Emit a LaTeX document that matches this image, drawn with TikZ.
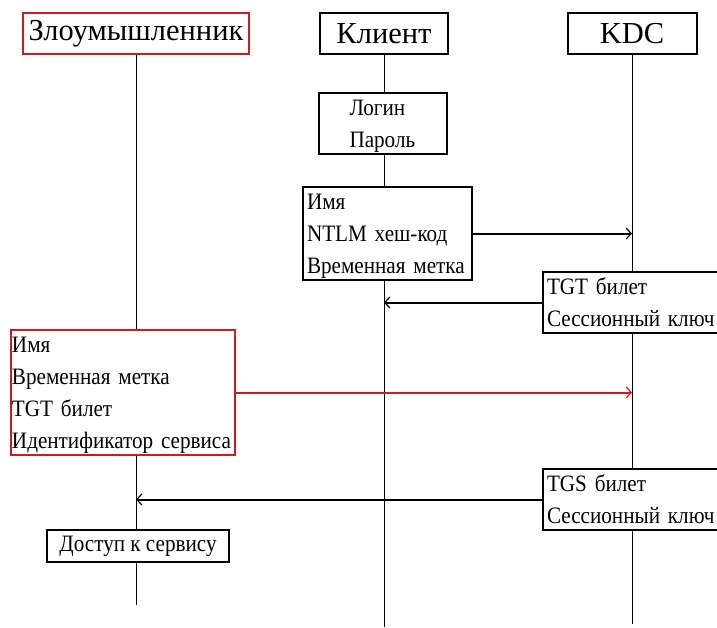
\documentclass[tikz,border=0pt]{standalone}
\usepackage{fontspec}
\setmainfont{Liberation Serif}
\newfontfamily\msgfont[FakeStretch=0.9]{Liberation Serif}
\usetikzlibrary{positioning,arrows.meta,backgrounds}
\definecolor{attackred}{RGB}{200,30,34}
\newcommand{\linetop}{\rule{0pt}{20pt}}
\newcommand{\linebot}{\rule[-5pt]{0pt}{5pt}}

\begin{document}
\begin{tikzpicture}[x=1pt, y=-1pt, line width=2pt,
  party/.style = {draw, fill=white, minimum height=41pt, font=\fontsize{30.5}{34}\selectfont},
  msg/.style = {draw, fill=white, align=left, inner xsep=4pt, inner ysep=2pt, font=\msgfont\fontsize{23.5}{32}\selectfont},
  bad/.style = {draw=attackred},
  call/.style = {-{Straight Barb[length=5pt,width=11pt,line width=1.2pt]}}]
  \clip (0,0) rectangle (717,627);
  % Parties
  \node[party, bad, minimum width=226pt] (att) at (136,33.5) {Злоумышленник};
  \node[party, minimum width=128pt] (cli) at (384,33.5) {Клиент};
  \node[party, minimum width=129pt] (kdc) at (632,33.5) {KDC};
  \coordinate (attEnd) at (136,605);
  \coordinate (cliEnd) at (384,627);
  \coordinate (kdcEnd) at (632,624);
  % Messages
  \node[msg, anchor=north, text width=67pt, minimum width=128pt] (login) at (383,92) {\linetop Логин\\Пароль\linebot};
  \node[msg, anchor=north west, text width=161pt] (auth) at (302,186) {\linetop Имя\\NTLM хеш-код\\Временная метка\linebot};
  \node[msg, anchor=north west, text width=190pt] (tgt) at (542,271) {\linetop TGT билет\\Сессионный ключ\linebot};
  \node[msg, bad, anchor=north west, inner xsep=1pt, text width=222pt] (forged) at (10,329) {\linetop Имя\\Временная метка\\TGT билет\\Идентификатор сервиса\linebot};
  \node[msg, anchor=north west, text width=190pt] (tgs) at (542,468) {\linetop TGS билет\\Сессионный ключ\linebot};
  \node[msg, align=center, minimum width=182pt, minimum height=32pt] (access) at (138,546) {Доступ к сервису};
  % Lifelines
  \begin{scope}[on background layer]
    \draw (att) -- (attEnd);
    \draw (cli) -- (cliEnd);
    \draw (kdc) -- (kdcEnd);
  \end{scope}
  % Edges
  \draw[call] (auth.east) -- (auth.east -| kdc);
  \draw[call] (tgt.west) -- (tgt.west -| cli);
  \draw[call, attackred] (forged.east) -- (forged.east -| kdc);
  \draw[call] (tgs.west) -- (tgs.west -| att);
\end{tikzpicture}
\end{document}
